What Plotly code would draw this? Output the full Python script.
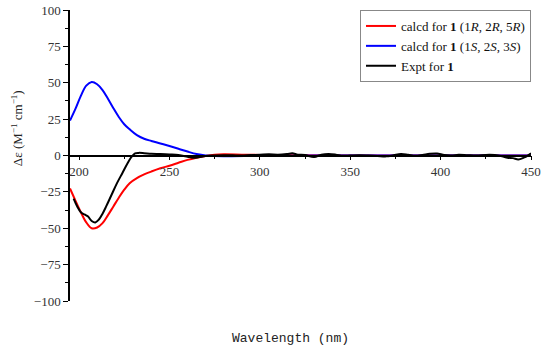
import plotly.graph_objects as go

red_x = [195,198,201,204,207,210,213,216,219,222,225,228,232,236,240,245,250,255,260,265,270,275,280,290,300,320,350,400,450]
red_y = [-22.7,-31,-39,-46,-50,-49.5,-46.5,-41,-35,-29,-23.5,-19,-15.5,-13,-11,-8.8,-7,-5,-3,-1.5,-0.3,0.5,0.8,0.6,0.4,0.1,0,0,0]

blue_x = [195,198,201,204,207,210,213,216,219,222,225,228,232,236,240,245,250,255,260,265,270,280,300,350,400,450]
blue_y = [24,32,41,48,50.5,49,45,39,32.5,26.5,21.5,18,14,11.5,10,8.3,6.5,4.6,2.7,1,0,-0.5,-0.3,0,0,0]

black_x = [197,199,201,203,205,207,209,211,213,215,218,221,224,227,229,231,233,236,240,245,250,255,260,263,266,270,275,280,285,290,295,300,305,310,315,318,321,325,330,334,338,342,346,350,355,360,365,370,374,378,382,386,390,394,398,402,406,410,415,420,425,430,434,437,440,443,446,448,450]
black_y = [-29.6,-35,-39,-40.5,-42,-45,-46,-44,-40,-35,-27,-19,-12,-5,-1,1.5,1.8,1.6,1.2,1.0,0.7,0.3,-0.8,-1.5,-1.2,-0.4,0,0.2,0.1,0,0.3,0.5,0.8,0.6,1.0,1.5,0.6,0.3,-1.0,0.5,1.0,0.6,-0.2,0,0.2,0,-0.3,-0.6,0.2,1.0,0.5,-0.2,0.4,1.2,1.4,0.3,0,0.5,0.2,0,0.4,0.3,-0.5,-1.5,-1.8,-2.7,-1.5,-0.3,1.5]

x_ticks = [200, 250, 300, 350, 400, 450]
y_ticks = [-100, -75, -50, -25, 0, 25, 50, 75, 100]

SERIF = "Liberation Serif, Times New Roman, serif"

fig = go.Figure()
fig.add_trace(go.Scatter(x=red_x, y=red_y, mode="lines", line=dict(color="#ff0000", width=2, shape="spline"),
                         name="calcd for <b>1</b> (1<i>R</i>, 2<i>R</i>, 5<i>R</i>)"))
fig.add_trace(go.Scatter(x=blue_x, y=blue_y, mode="lines", line=dict(color="#0000ff", width=2, shape="spline"),
                         name="calcd for <b>1</b> (1<i>S</i>, 2<i>S</i>, 3<i>S</i>)"))
fig.add_trace(go.Scatter(x=black_x, y=black_y, mode="lines", line=dict(color="#000000", width=2, shape="spline"),
                         name="Expt for <b>1</b>"))

fig.update_layout(
    width=550, height=353,
    margin=dict(l=70, r=19, t=10, b=52, autoexpand=False),
    paper_bgcolor="white", plot_bgcolor="white",
    font=dict(family=SERIF, size=12, color="#222"),
    legend=dict(x=1, y=1, xanchor="right", yanchor="top", bordercolor="#888", borderwidth=1,
                bgcolor="white", font=dict(family=SERIF, size=13, color="#111"),
                tracegroupgap=0, itemwidth=30),
    xaxis=dict(range=[195, 450], tickvals=x_ticks, ticks="outside", ticklen=4, tickwidth=1.3,
               showline=True, linecolor="black", linewidth=1.5, showgrid=False, zeroline=False,
               anchor="free", position=0.5, automargin=False,
               minor=dict(tickvals=[225, 275, 325, 375, 425], ticks="outside", ticklen=3, tickcolor="black"),
               tickcolor="black", tickfont=dict(family=SERIF, size=13, color="#333")),
    yaxis=dict(range=[-100, 100], tickvals=y_ticks, ticks="outside", ticklen=5, tickwidth=1.3,
               showline=True, linecolor="black", linewidth=1.5, showgrid=False, zeroline=False,
               automargin=False,
               minor=dict(dtick=12.5, tick0=0, ticks="outside", ticklen=3, tickcolor="black"),
               tickcolor="black", tickfont=dict(family=SERIF, size=13, color="#333")),
    showlegend=True,
)

fig.add_annotation(text="Wavelength (nm)", xref="paper", yref="paper", x=0.479, y=-0.13,
                   xanchor="center", yanchor="middle", showarrow=False,
                   font=dict(family="Liberation Mono", size=13, color="#222"))
fig.add_annotation(text="Δε (M<sup>−1</sup> cm<sup>−1</sup>)", xref="paper", yref="paper", x=-0.115, y=0.594,
                   xanchor="center", yanchor="middle", showarrow=False, textangle=-90,
                   font=dict(family=SERIF, size=13, color="#222"))

fig.write_html("out.html", config={"displayModeBar": False},
               post_script="document.body.style.margin='0';document.body.style.overflow='hidden';")
